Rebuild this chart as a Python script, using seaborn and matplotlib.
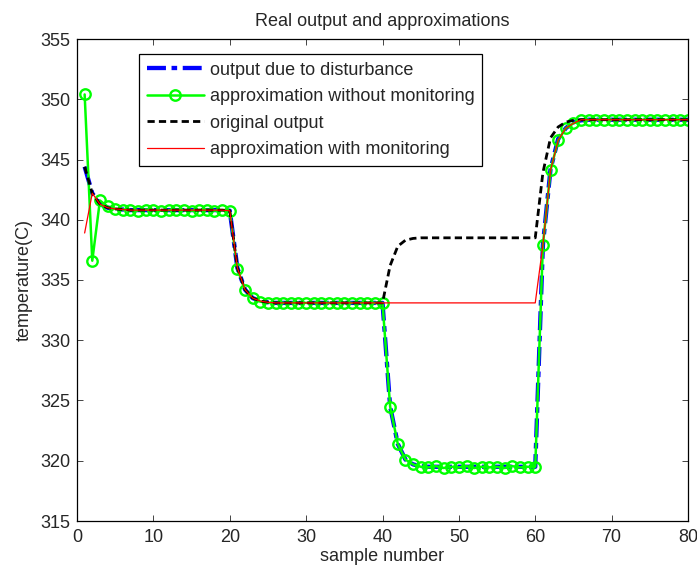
import numpy as np
import pandas as pd
import seaborn as sns
import matplotlib.pyplot as plt

# sample index 1..80
samples = list(range(1, 81))

disturbance = [
    344.4, 342.2, 341.3, 341.0, 340.9, 340.85, 340.8, 340.8, 340.8, 340.8,
    340.8, 340.8, 340.8, 340.8, 340.8, 340.8, 340.8, 340.8, 340.8, 340.75,
    336.0, 334.2, 333.5, 333.25, 333.15, 333.1, 333.1, 333.1, 333.1, 333.1,
    333.1, 333.1, 333.1, 333.1, 333.1, 333.1, 333.1, 333.1, 333.1, 333.1,
    324.5, 321.4, 320.1, 319.7, 319.55, 319.5, 319.5, 319.5, 319.5, 319.5,
    319.5, 319.5, 319.5, 319.5, 319.5, 319.5, 319.5, 319.5, 319.5, 319.5,
    337.9, 344.2, 346.7, 347.6, 348.1, 348.25, 348.3, 348.3, 348.3, 348.3,
    348.3, 348.3, 348.3, 348.3, 348.3, 348.3, 348.3, 348.3, 348.3, 348.3,
]

no_monitoring = [
    350.4, 336.6, 341.6, 341.1, 340.9, 340.85, 340.8, 340.75, 340.85, 340.8,
    340.75, 340.8, 340.85, 340.8, 340.75, 340.8, 340.85, 340.75, 340.8, 340.75,
    335.9, 334.2, 333.5, 333.2, 333.1, 333.1, 333.1, 333.1, 333.1, 333.1,
    333.1, 333.1, 333.1, 333.1, 333.1, 333.1, 333.1, 333.1, 333.1, 333.1,
    324.5, 321.4, 320.1, 319.7, 319.5, 319.45, 319.55, 319.4, 319.5, 319.45,
    319.55, 319.4, 319.5, 319.45, 319.5, 319.4, 319.55, 319.45, 319.5, 319.5,
    337.9, 344.1, 346.6, 347.6, 348.0, 348.3, 348.3, 348.3, 348.3, 348.3,
    348.3, 348.3, 348.3, 348.3, 348.3, 348.3, 348.3, 348.3, 348.3, 348.3,
]

original = [
    344.4, 342.2, 341.3, 341.0, 340.9, 340.85, 340.8, 340.8, 340.8, 340.8,
    340.8, 340.8, 340.8, 340.8, 340.8, 340.8, 340.8, 340.8, 340.8, 340.75,
    336.0, 334.2, 333.5, 333.25, 333.15, 333.1, 333.1, 333.1, 333.1, 333.1,
    333.1, 333.1, 333.1, 333.1, 333.1, 333.1, 333.1, 333.1, 333.1, 333.1,
    336.2, 337.8, 338.3, 338.45, 338.5, 338.5, 338.5, 338.5, 338.5, 338.5,
    338.5, 338.5, 338.5, 338.5, 338.5, 338.5, 338.5, 338.5, 338.5, 338.5,
    343.9, 346.8, 347.7, 348.1, 348.25, 348.3, 348.3, 348.3, 348.3, 348.3,
    348.3, 348.3, 348.3, 348.3, 348.3, 348.3, 348.3, 348.3, 348.3, 348.3,
]

monitoring = [
    338.9, 342.2, 341.3, 341.0, 340.9, 340.85, 340.8, 340.8, 340.8, 340.8,
    340.8, 340.8, 340.8, 340.8, 340.8, 340.8, 340.8, 340.8, 340.8, 340.75,
    336.0, 334.2, 333.5, 333.25, 333.15, 333.1, 333.1, 333.1, 333.1, 333.1,
    333.1, 333.1, 333.1, 333.1, 333.1, 333.1, 333.1, 333.1, 333.1, 333.1,
    333.1, 333.1, 333.1, 333.1, 333.1, 333.1, 333.1, 333.1, 333.1, 333.1,
    333.1, 333.1, 333.1, 333.1, 333.1, 333.1, 333.1, 333.1, 333.1, 333.1,
    337.9, 344.1, 346.6, 347.6, 348.0, 348.3, 348.3, 348.3, 348.3, 348.3,
    348.3, 348.3, 348.3, 348.3, 348.3, 348.3, 348.3, 348.3, 348.3, 348.3,
]

df = pd.DataFrame({
    "sample": samples,
    "disturbance": disturbance,
    "no_monitoring": no_monitoring,
    "original": original,
    "monitoring": monitoring,
})

sns.set_style("ticks")
plt.rcParams["font.family"] = ["Liberation Sans", "DejaVu Sans"]
plt.rcParams["xtick.direction"] = "in"
plt.rcParams["ytick.direction"] = "in"

FS = 13

fig = plt.figure(figsize=(6.97, 5.70), dpi=100)
# axes box: x 77..688 px, y 39..521 px
ax = fig.add_axes([77 / 697, 49 / 570, 611 / 697, 482 / 570])

sns.lineplot(data=df, x="sample", y="disturbance", ax=ax, color=(0, 0, 1),
             linewidth=3.1, linestyle=(0, (4.4, 1.3, 1.3, 1.3)),
             label="output due to disturbance")
sns.lineplot(data=df, x="sample", y="no_monitoring", ax=ax, color=(0, 1, 0),
             linewidth=1.8, marker="o", markersize=7.5, markerfacecolor="none",
             markeredgecolor=(0, 1, 0), markeredgewidth=1.7,
             label="approximation without monitoring")
sns.lineplot(data=df, x="sample", y="original", ax=ax, color="black",
             linewidth=2.0, linestyle=(0, (2.6, 1.5)),
             label="original output")
sns.lineplot(data=df, x="sample", y="monitoring", ax=ax, color=(1, 0, 0),
             linewidth=0.9, label="approximation with monitoring")

ax.set_xlim(0, 80)
ax.set_ylim(315, 355)
ax.set_xticks(np.arange(0, 81, 10))
ax.set_yticks(np.arange(315, 356, 5))
ax.tick_params(axis="both", which="both", direction="in", top=True, right=True,
               labelsize=FS, length=4, width=0.6, pad=5)
ax.tick_params(axis="x", pad=6)
for sp in ax.spines.values():
    sp.set_linewidth(0.9)
    sp.set_color("black")

ax.set_title("Real output and approximations", fontsize=FS, pad=9)
ax.set_xlabel("sample number", fontsize=FS, labelpad=1)
ax.set_ylabel("temperature(C)", fontsize=FS, labelpad=5)

leg = ax.legend(loc="upper left", bbox_to_anchor=(0.102, 0.968),
                borderaxespad=0, fontsize=FS, handlelength=3.2,
                labelspacing=0.53, handletextpad=0.3, fancybox=False,
                framealpha=1, edgecolor="black", borderpad=0.4)
leg.get_frame().set_linewidth(0.9)

fig.savefig("out.png", dpi=100)
